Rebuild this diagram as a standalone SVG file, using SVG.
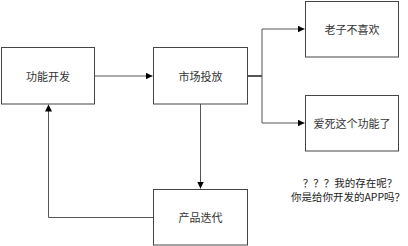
<svg xmlns="http://www.w3.org/2000/svg" width="408" height="246" viewBox="0 0 408 246">
<style>
.box{fill:#fff;stroke:#444;stroke-width:1}
.lbl{font-family:"Noto Sans CJK SC","Noto Sans",sans-serif;font-size:11px;fill:#333;text-anchor:middle;dominant-baseline:central}
.ln{fill:none;stroke:#555;stroke-width:1}
.note{font-family:"Noto Sans CJK SC","Noto Sans",sans-serif;font-size:10.5px;fill:#222;text-anchor:middle}
</style>
<defs>
<marker id="ah" viewBox="0 0 10 10" refX="10" refY="5" markerWidth="7" markerHeight="7" markerUnits="userSpaceOnUse" orient="auto">
<path d="M0,0 L10,5 L0,10 Z" fill="#000"/>
</marker>
</defs>
<rect width="408" height="246" fill="#fff"/>
<g id="connectors">
<path class="ln" d="M95,76 H152.5" marker-end="url(#ah)"/>
<path class="ln" d="M248,76 H262" style="stroke-width:2"/>
<path class="ln" d="M262,29 V123"/>
<path class="ln" d="M262,29 H304.5" marker-end="url(#ah)"/>
<path class="ln" d="M262,123 H304.5" marker-end="url(#ah)"/>
<path class="ln" d="M200.5,104 V188.5" marker-end="url(#ah)"/>
<path class="ln" d="M153,217.5 H48.5 V104.5" marker-end="url(#ah)"/>
</g>
<g id="n1"><rect class="box" x="1.5" y="47.5" width="93" height="56.5"/><text class="lbl" x="48" y="75.5">功能开发</text></g>
<g id="n2"><rect class="box" x="153.5" y="47.5" width="94" height="56.5"/><text class="lbl" x="200.5" y="75.5">市场投放</text></g>
<g id="n3"><rect class="box" x="305.5" y="1.5" width="93" height="55.5"/><text class="lbl" x="352" y="28.5">老子不喜欢</text></g>
<g id="n4"><rect class="box" x="305.5" y="95.5" width="93" height="55.5"/><text class="lbl" x="352" y="122.5">爱死这个功能了</text></g>
<g id="n5"><rect class="box" x="153.5" y="189.5" width="94" height="55.5"/><text class="lbl" x="200.5" y="217">产品迭代</text></g>
<g id="note">
<text class="note" x="350" y="187">？？？我的存在呢？</text>
<text class="note" x="348" y="201">你是给你开发的APP吗？</text>
</g>
</svg>
